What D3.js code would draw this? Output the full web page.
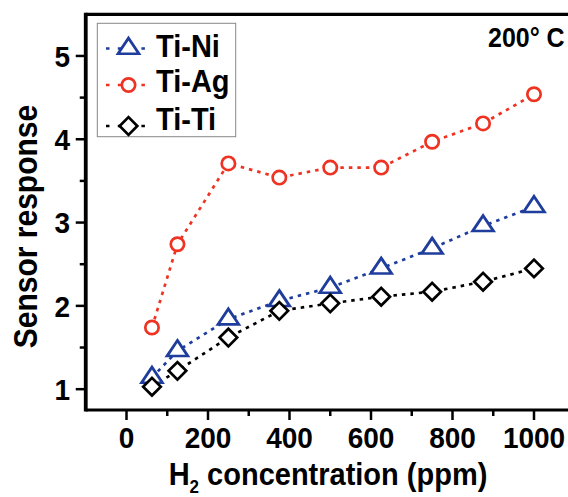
<!DOCTYPE html>
<html>
<head>
<meta charset="utf-8">
<script src="https://cdn.jsdelivr.net/npm/d3@7"></script>
<style>
  html, body { margin: 0; padding: 0; background: #fff; }
  svg { display: block; }
  text { font-family: "Liberation Sans", Arial, sans-serif; font-weight: bold; fill: #000; }
</style>
</head>
<body>
<svg id="chart" width="568" height="497"></svg>
<script>
// ---- data ----
const concentrations = [62.5, 125, 250, 375, 500, 625, 750, 875, 1000];
const tiNi = [1.14, 1.46, 1.84, 2.06, 2.22, 2.45, 2.69, 2.96, 3.19];
const tiAg = [1.74, 2.74, 3.71, 3.54, 3.66, 3.66, 3.97, 4.19, 4.54];
const tiTi = [1.03, 1.22, 1.62, 1.94, 2.03, 2.11, 2.17, 2.29, 2.45];
const seriesNames = ["Ti-Ni", "Ti-Ag", "Ti-Ti"];
const xTicks = [0, 200, 400, 600, 800, 1000];
const yTicks = [1, 2, 3, 4, 5];
const xTitle = "H";
const xTitleSub = "2";
const xTitleRest = " concentration (ppm)";
const yTitle = "Sensor response";
const tempLabel = "200\u00B0 C";

const colors = { "Ti-Ni": "#1f3d9c", "Ti-Ag": "#ef3323", "Ti-Ti": "#000000" };
const symbols = { "Ti-Ni": d3.symbolTriangle, "Ti-Ag": d3.symbolCircle, "Ti-Ti": d3.symbolSquare };

const svg = d3.select("#chart");
const W = 568, H = 497;
const SY = 1.08; // slight vertical stretch of the glyphs, as in the reference

const x = d3.scaleLinear().domain([-100, 1100]).range([85.75, 574.75]);
const y = d3.scaleLinear().domain([0.75, 5.5]).range([410, 14.3]);

const axisW = 3.2;

// ticks - x
const gx = svg.append("g");
const xMinor = d3.range(-100, 1101, 100).filter(v => xTicks.indexOf(v) < 0 && v > -100);
gx.selectAll("line.maj").data(xTicks).join("line")
  .attr("x1", d => x(d)).attr("x2", d => x(d))
  .attr("y1", y(0.75)).attr("y2", y(0.75) + 10)
  .attr("stroke", "#000").attr("stroke-width", 2.5);
gx.selectAll("line.min").data(xMinor).join("line")
  .attr("x1", d => x(d)).attr("x2", d => x(d))
  .attr("y1", y(0.75)).attr("y2", y(0.75) + 6)
  .attr("stroke", "#000").attr("stroke-width", 2.5);
gx.selectAll("text").data(xTicks).join("text")
  .attr("transform", d => `translate(${x(d)},448) scale(1,${SY})`)
  .attr("text-anchor", "middle").attr("font-size", 28)
  .text(d => d);

// ticks - y
const gy = svg.append("g");
const yMinor = [1.5, 2.5, 3.5, 4.5];
gy.selectAll("line.maj").data(yTicks).join("line")
  .attr("x1", x(-100)).attr("x2", x(-100) - 10)
  .attr("y1", d => y(d)).attr("y2", d => y(d))
  .attr("stroke", "#000").attr("stroke-width", 2.5);
gy.selectAll("line.min").data(yMinor).join("line")
  .attr("x1", x(-100)).attr("x2", x(-100) - 6)
  .attr("y1", d => y(d)).attr("y2", d => y(d))
  .attr("stroke", "#000").attr("stroke-width", 2.5);
gy.selectAll("text").data(yTicks).join("text")
  .attr("transform", d => `translate(70,${y(d) + 10.8}) scale(1,${SY})`)
  .attr("text-anchor", "end").attr("font-size", 28)
  .text(d => d);

// axis frame
svg.append("line").attr("x1", x(-100)).attr("x2", W).attr("y1", y(5.5)).attr("y2", y(5.5))
  .attr("stroke", "#000").attr("stroke-width", axisW);
svg.append("line").attr("x1", x(-100)).attr("x2", W).attr("y1", y(0.75)).attr("y2", y(0.75))
  .attr("stroke", "#000").attr("stroke-width", axisW);
svg.append("line").attr("x1", x(-100)).attr("x2", x(-100)).attr("y1", y(5.5) - axisW / 2).attr("y2", y(0.75) + axisW / 2)
  .attr("stroke", "#000").attr("stroke-width", axisW + 0.6);

// series
const series = [
  { name: "Ti-Ni", values: tiNi },
  { name: "Ti-Ag", values: tiAg },
  { name: "Ti-Ti", values: tiTi }
];
const line = d3.line().x((d, i) => x(concentrations[i])).y(d => y(d));
const symSize = { "Ti-Ni": 155, "Ti-Ag": 140, "Ti-Ti": 155 };
function symPath(name) {
  return d3.symbol().type(symbols[name]).size(symSize[name])();
}
series.forEach(s => {
  svg.append("path").datum(s.values)
    .attr("d", line).attr("fill", "none")
    .attr("stroke", colors[s.name]).attr("stroke-width", 2.7)
    .attr("stroke-dasharray", "3.5,5");
});
series.forEach(s => {
  svg.append("g").selectAll("path").data(s.values).join("path")
    .attr("d", symPath(s.name))
    .attr("transform", (d, i) => {
      let t = `translate(${x(concentrations[i])},${y(d)})`;
      if (s.name === "Ti-Ti") t += " rotate(45)";
      if (s.name === "Ti-Ni") t += " scale(1.1,0.95)";
      return t;
    })
    .attr("fill", "#fff")
    .attr("stroke", colors[s.name]).attr("stroke-width", 2.7);
});

// legend
const lg = svg.append("g");
lg.append("rect").attr("x", 97.3).attr("y", 23.3).attr("width", 138.4).attr("height", 113.4)
  .attr("fill", "#fff").attr("stroke", "#888").attr("stroke-width", 1);
const legRows = [
  { name: "Ti-Ni", my: 48.5, ty: 57 },
  { name: "Ti-Ag", my: 85, ty: 92 },
  { name: "Ti-Ti", my: 126, ty: 130 }
];
legRows.forEach(r => {
  lg.append("line").attr("x1", 106).attr("x2", 151)
    .attr("y1", r.my).attr("y2", r.my)
    .attr("stroke", colors[r.name]).attr("stroke-width", 2.7)
    .attr("stroke-dasharray", "3.5,8.3");
  let t = `translate(128.5,${r.my})`;
  if (r.name === "Ti-Ti") t += " rotate(45)";
  if (r.name === "Ti-Ni") t += " scale(1.1,0.95)";
  lg.append("path").attr("d", symPath(r.name)).attr("transform", t)
    .attr("fill", "#fff").attr("stroke", colors[r.name]).attr("stroke-width", 2.7);
  lg.append("text").attr("transform", `translate(156,${r.ty}) scale(1,${SY})`)
    .attr("font-size", 29).text(r.name);
});

// temperature label
svg.append("text").attr("transform", `translate(488,47) scale(1,${SY})`)
  .attr("font-size", 25).text(tempLabel);

// axis titles
const xt = svg.append("text").attr("transform", `translate(328,485) scale(1,${SY})`)
  .attr("text-anchor", "middle").attr("font-size", 29);
xt.append("tspan").text(xTitle);
xt.append("tspan").attr("font-size", 17).attr("dy", 7).text(xTitleSub);
xt.append("tspan").attr("dy", -7).text(xTitleRest);

svg.append("text")
  .attr("transform", `translate(37,226.5) rotate(-90) scale(1,${SY})`)
  .attr("text-anchor", "middle").attr("font-size", 30)
  .text(yTitle);
</script>
</body>
</html>
